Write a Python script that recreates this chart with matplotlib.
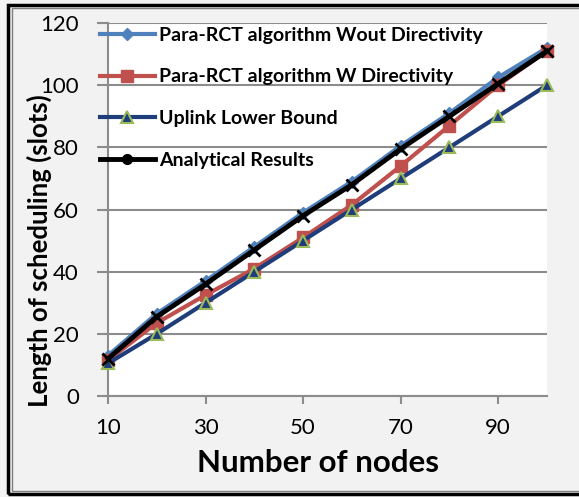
import matplotlib.pyplot as plt
from matplotlib.lines import Line2D
from matplotlib.patches import Rectangle

nodes = [10, 20, 30, 40, 50, 60, 70, 80, 90, 100]
wout_dir = [13, 26.5, 37, 48, 59, 69, 80.5, 91, 102.5, 112]
w_dir = [11.5, 23.5, 32.5, 41, 51, 61.5, 74, 87, 100, 111]
uplink_lb = [10.5, 20, 30, 40, 50, 60, 70, 80, 90, 100]
analytical = [12, 25.5, 36, 47, 58, 68, 79.5, 90, 100.5, 111]

labels = ['Para-RCT algorithm Wout Directivity',
          'Para-RCT algorithm W Directivity',
          'Uplink Lower Bound',
          'Analytical Results']

c_blue = '#4f81bd'
c_red = '#c0504d'
c_navy = '#1f3d7a'
c_green = '#9bbb59'
bg = '#f2f2f2'
grid_c = '#8c8c8c'

plt.rcParams['font.family'] = ['Lato', 'DejaVu Sans']

W, H = 579, 497
fig = plt.figure(figsize=(W / 100, H / 100), dpi=100, facecolor=bg)
ax = fig.add_axes([108 / W, 1 - 396 / H, (547 - 108) / W, (396 - 23) / H])
ax.set_facecolor('white')

ax.plot(nodes, wout_dir, color=c_blue, lw=3, marker='D', ms=6, mfc=c_blue, mec=c_blue, clip_on=False, zorder=3)
ax.plot(nodes, w_dir, color=c_red, lw=3, marker='s', ms=8, mfc=c_red, mec=c_red, clip_on=False, zorder=3)
ax.plot(nodes, uplink_lb, color=c_navy, lw=3, marker='^', ms=9, mfc=c_navy, mec=c_green, mew=1.5, clip_on=False, zorder=3)
ax.plot(nodes, analytical, color='black', lw=3.5, marker='x', ms=8, mew=2, clip_on=False, zorder=4)

ax.set_xlim(10, 100)
ax.set_ylim(0, 120)
ax.set_xticks([10, 30, 50, 70, 90])
ax.set_yticks(range(0, 121, 20))
ax.grid(axis='y', color=grid_c, lw=1.5)
ax.set_axisbelow(True)
for s in ['top', 'right']:
    ax.spines[s].set_visible(False)
for s in ['left', 'bottom']:
    ax.spines[s].set_color(grid_c)
    ax.spines[s].set_linewidth(1.5)
ax.tick_params(axis='both', colors=grid_c, width=1.5, labelcolor='black', labelsize=16)
ax.tick_params(axis='y', length=8, pad=13)
ax.tick_params(axis='x', length=6, pad=10)

# axis titles placed like the Excel original
fig.text(318 / W, 1 - 472 / H, 'Number of nodes', fontsize=22.5, fontweight='bold',
         ha='center', va='baseline')
fig.text(39 / W, 1 - 251 / H, 'Length of scheduling (slots)', fontsize=18.5, fontweight='bold',
         rotation=90, ha='center', va='center')

handles = [
    Line2D([], [], color=c_blue, lw=3, marker='D', ms=6),
    Line2D([], [], color=c_red, lw=3, marker='s', ms=8),
    Line2D([], [], color=c_navy, lw=3, marker='^', ms=9, mfc=c_navy, mec=c_green, mew=1.5),
    Line2D([], [], color='black', lw=3.5, marker='o', ms=7),
]
leg = ax.legend(handles, labels, loc='upper left', bbox_to_anchor=(-0.018, 0.99),
                frameon=False, prop={'weight': 'bold', 'size': 14},
                handlelength=2.8, handletextpad=0.25, labelspacing=1.27,
                borderaxespad=0, borderpad=0)
leg.set_zorder(5)

# outer double frame
fig.patches.append(Rectangle((8 / W, 3 / H), 1.0, 1 - 8 / H, transform=fig.transFigure,
                             fill=False, ec='black', lw=2.5))
fig.patches.append(Rectangle((11.5 / W, 6 / H), 1.0, 1 - 14 / H, transform=fig.transFigure,
                             fill=False, ec='#7f7f7f', lw=1))

plt.savefig('out.png', dpi=100, facecolor=bg)
